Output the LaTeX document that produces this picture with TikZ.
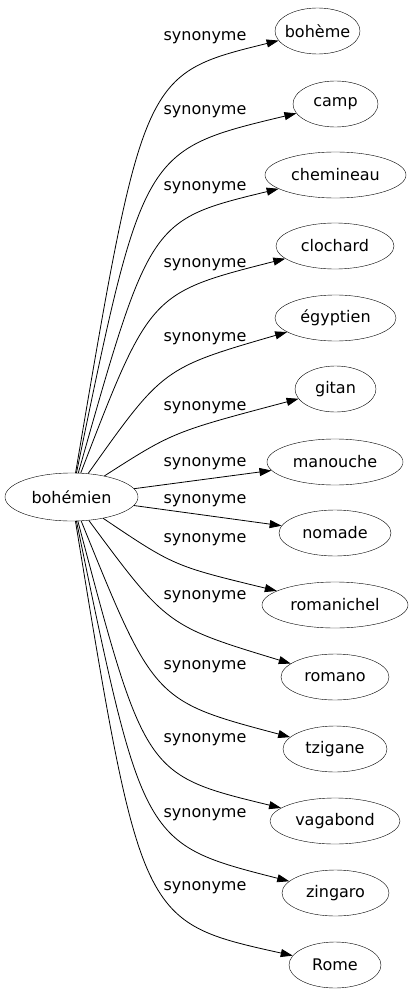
\documentclass[tikz,border=0pt]{standalone}
\usepackage{fontspec}
\setmainfont{DejaVu Sans}
\usetikzlibrary{arrows.meta,shapes.geometric}

\begin{document}
\begin{tikzpicture}[
  x=1pt, y=-1pt,
  word/.style={draw, ellipse, inner sep=0pt, minimum height=46pt, font=\fontsize{16}{18}\selectfont},
  rel/.style={font=\fontsize{16}{18}\selectfont},
  arr/.style={-{Triangle[length=12pt, width=8pt]}, line width=0.8pt},
]
\useasboundingbox (0,0) rectangle (413,995);

\node[word, minimum width=133pt, minimum height=48pt] (bohemien) at (71.5,497) {bohémien};

\node[word, minimum width=85pt, inner xsep=-3pt] (boheme) at (317.5,31) {bohème};
\node[word, minimum width=85pt] (camp) at (335.5,104) {camp};
\node[word, minimum width=141pt] (chemineau) at (335.5,175) {chemineau};
\node[word, minimum width=118pt] (clochard) at (335,246) {clochard};
\node[word, minimum width=121pt] (egyptien) at (335.5,318) {égyptien};
\node[word, minimum width=81pt] (gitan) at (335.5,389) {gitan};
\node[word, minimum width=136pt] (manouche) at (335,462) {manouche};
\node[word, minimum width=112pt] (nomade) at (335,533) {nomade};
\node[word, minimum width=146pt] (romanichel) at (335,605) {romanichel};
\node[word, minimum width=108pt] (romano) at (335,677) {romano};
\node[word, minimum width=104pt] (tzigane) at (335,749) {tzigane};
\node[word, minimum width=130pt] (vagabond) at (335,821) {vagabond};
\node[word, minimum width=107pt] (zingaro) at (335.5,893) {zingaro};
\node[word, minimum width=92pt] (rome) at (335,965) {Rome};

% edge labels
\node[rel] (syn1) at (205,38) {synonyme};
\node[rel] (syn2) at (205,112) {synonyme};
\node[rel] (syn3) at (205,188) {synonyme};
\node[rel] (syn4) at (205,265) {synonyme};
\node[rel] (syn5) at (205,339) {synonyme};
\node[rel] (syn6) at (205,408) {synonyme};
\node[rel] (syn7) at (205,464) {synonyme};
\node[rel] (syn8) at (205,501) {synonyme};
\node[rel] (syn9) at (205,540) {synonyme};
\node[rel] (syn10) at (205,597) {synonyme};
\node[rel] (syn11) at (205,667) {synonyme};
\node[rel] (syn12) at (205,740) {synonyme};
\node[rel] (syn13) at (205,815) {synonyme};
\node[rel] (syn14) at (205,888) {synonyme};

\draw[arr] (bohemien) .. controls (143,74) .. (boheme);
\draw[arr] (bohemien) .. controls (143,150) .. (camp);
\draw[arr] (bohemien) .. controls (150,220) .. (chemineau);
\draw[arr] (bohemien) .. controls (150,293) .. (clochard);
\draw[arr] (bohemien) .. controls (163,368) .. (egyptien);
\draw[arr] (bohemien) .. controls (173,432) .. (gitan);
\draw[arr] (bohemien) -- (manouche);
\draw[arr] (bohemien) -- (nomade);
\draw[arr] (bohemien) .. controls (174,566) .. (romanichel);
\draw[arr] (bohemien) .. controls (167,626) .. (romano);
\draw[arr] (bohemien) .. controls (154,701) .. (tzigane);
\draw[arr] (bohemien) .. controls (145,775) .. (vagabond);
\draw[arr] (bohemien) .. controls (143,844) .. (zingaro);
\draw[arr] (bohemien) .. controls (141,922) .. (rome);
\end{tikzpicture}
\end{document}
